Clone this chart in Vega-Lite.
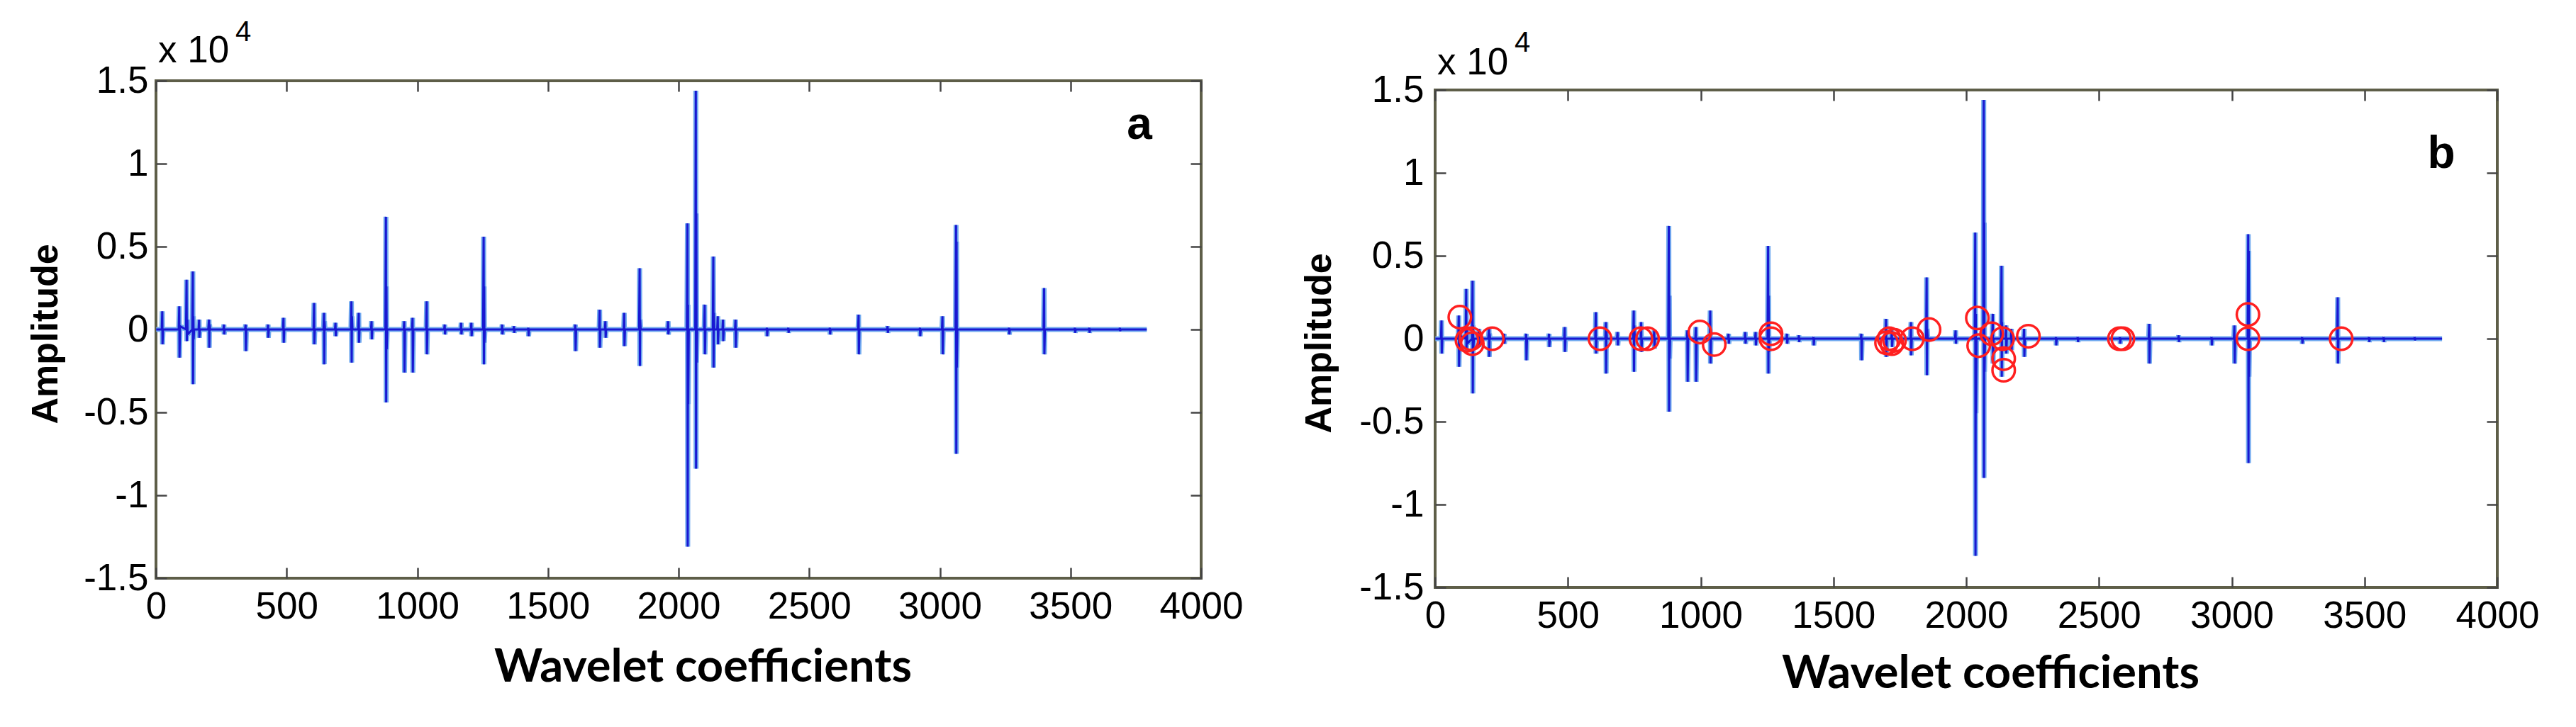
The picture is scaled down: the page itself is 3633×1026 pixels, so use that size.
{
  "$schema": "https://vega.github.io/schema/vega-lite/v6.json",
  "background": "white",
  "padding": {"left": 36, "top": 23, "right": 5, "bottom": 5},
  "config": {
    "view": {"stroke": "#5e5e48", "strokeWidth": 4},
    "font": "Liberation Sans",
    "axis": {"grid": false}
  },
  "datasets": {
    "sig": [
      {"x":1,"y":0},
      {"x":22,"y":0},{"x":24,"y":1100},{"x":25,"y":-900},{"x":27,"y":0},
      {"x":87,"y":0},{"x":89,"y":1400},{"x":90,"y":-1700},{"x":92,"y":200},
      {"x":115,"y":0},{"x":117,"y":3000},{"x":118,"y":-700},{"x":120,"y":600},{"x":121,"y":-300},
      {"x":139,"y":0},{"x":141,"y":3500},{"x":142,"y":-3300},{"x":143,"y":800},{"x":144,"y":-600},{"x":146,"y":0},
      {"x":163,"y":0},{"x":165,"y":600},{"x":166,"y":-500},{"x":168,"y":0},
      {"x":200,"y":0},{"x":203,"y":600},{"x":204,"y":-1100},{"x":205,"y":300},{"x":207,"y":0},
      {"x":258,"y":0},{"x":260,"y":300},{"x":261,"y":-300},{"x":263,"y":0},
      {"x":341,"y":0},{"x":343,"y":300},{"x":344,"y":-1300},{"x":346,"y":0},
      {"x":427,"y":0},{"x":429,"y":300},{"x":430,"y":-500},{"x":432,"y":0},
      {"x":486,"y":0},{"x":488,"y":700},{"x":489,"y":-800},{"x":491,"y":0},
      {"x":603,"y":0},{"x":605,"y":1600},{"x":606,"y":-900},{"x":608,"y":0},
      {"x":641,"y":0},{"x":643,"y":1000},{"x":644,"y":-2100},{"x":645,"y":500},{"x":647,"y":0},
      {"x":685,"y":0},{"x":687,"y":400},{"x":688,"y":-400},{"x":690,"y":0},
      {"x":746,"y":0},{"x":748,"y":1700},{"x":749,"y":-2000},{"x":750,"y":800},{"x":752,"y":0},
      {"x":774,"y":0},{"x":776,"y":1000},{"x":777,"y":-800},{"x":779,"y":0},
      {"x":823,"y":0},{"x":825,"y":500},{"x":826,"y":-600},{"x":828,"y":0},
      {"x":878,"y":0},{"x":880,"y":6800},{"x":881,"y":-4400},{"x":882,"y":2600},{"x":883,"y":-1200},{"x":885,"y":0},
      {"x":948,"y":0},{"x":950,"y":500},{"x":951,"y":-2600},{"x":953,"y":0},
      {"x":980,"y":0},{"x":982,"y":700},{"x":983,"y":-2600},{"x":985,"y":0},
      {"x":1034,"y":0},{"x":1036,"y":1700},{"x":1037,"y":-1500},{"x":1039,"y":0},
      {"x":1103,"y":0},{"x":1105,"y":300},{"x":1106,"y":-300},{"x":1108,"y":0},
      {"x":1166,"y":0},{"x":1168,"y":400},{"x":1169,"y":-300},{"x":1171,"y":0},
      {"x":1205,"y":0},{"x":1207,"y":400},{"x":1208,"y":-400},{"x":1210,"y":0},
      {"x":1252,"y":0},{"x":1254,"y":5600},{"x":1255,"y":-2100},{"x":1256,"y":2600},{"x":1257,"y":-800},{"x":1259,"y":0},
      {"x":1323,"y":0},{"x":1325,"y":300},{"x":1326,"y":-300},{"x":1328,"y":0},
      {"x":1368,"y":0},{"x":1370,"y":200},{"x":1371,"y":-200},{"x":1373,"y":0},
      {"x":1423,"y":0},{"x":1425,"y":100},{"x":1426,"y":-400},{"x":1428,"y":0},
      {"x":1603,"y":0},{"x":1605,"y":300},{"x":1606,"y":-1300},{"x":1608,"y":0},
      {"x":1696,"y":0},{"x":1698,"y":1200},{"x":1699,"y":-1100},{"x":1701,"y":0},
      {"x":1718,"y":0},{"x":1720,"y":500},{"x":1721,"y":-500},{"x":1723,"y":0},
      {"x":1790,"y":0},{"x":1792,"y":1000},{"x":1793,"y":-1000},{"x":1795,"y":0},
      {"x":1849,"y":0},{"x":1851,"y":3700},{"x":1852,"y":-2200},{"x":1853,"y":600},{"x":1855,"y":0},
      {"x":1958,"y":0},{"x":1960,"y":500},{"x":1961,"y":-300},{"x":1963,"y":0},
      {"x":2032,"y":0},{"x":2034,"y":6400},{"x":2035,"y":-13100},{"x":2036,"y":1500},{"x":2037,"y":-4500},{"x":2039,"y":0},
      {"x":2064,"y":0},{"x":2066,"y":14400},{"x":2067,"y":-8400},{"x":2068,"y":7000},{"x":2069,"y":-2000},{"x":2071,"y":0},
      {"x":2098,"y":0},{"x":2100,"y":1500},{"x":2101,"y":-1500},{"x":2103,"y":0},
      {"x":2131,"y":0},{"x":2133,"y":4400},{"x":2134,"y":-2300},{"x":2135,"y":1000},{"x":2137,"y":0},
      {"x":2148,"y":0},{"x":2150,"y":800},{"x":2151,"y":-900},{"x":2153,"y":0},
      {"x":2168,"y":0},{"x":2170,"y":600},{"x":2171,"y":-700},{"x":2173,"y":0},
      {"x":2216,"y":0},{"x":2218,"y":600},{"x":2219,"y":-1100},{"x":2221,"y":0},
      {"x":2336,"y":0},{"x":2338,"y":100},{"x":2339,"y":-400},{"x":2341,"y":0},
      {"x":2418,"y":0},{"x":2420,"y":100},{"x":2421,"y":-200},{"x":2423,"y":0},
      {"x":2577,"y":0},{"x":2579,"y":100},{"x":2580,"y":-300},{"x":2582,"y":0},
      {"x":2687,"y":0},{"x":2689,"y":900},{"x":2690,"y":-1500},{"x":2692,"y":0},
      {"x":2798,"y":0},{"x":2800,"y":200},{"x":2801,"y":-200},{"x":2803,"y":0},
      {"x":2922,"y":0},{"x":2924,"y":100},{"x":2925,"y":-400},{"x":2927,"y":0},
      {"x":3008,"y":0},{"x":3010,"y":800},{"x":3011,"y":-1500},{"x":3013,"y":0},
      {"x":3060,"y":0},{"x":3062,"y":6300},{"x":3063,"y":-7500},{"x":3064,"y":5300},{"x":3065,"y":-2300},{"x":3067,"y":0},
      {"x":3263,"y":0},{"x":3265,"y":100},{"x":3266,"y":-300},{"x":3268,"y":0},
      {"x":3397,"y":0},{"x":3399,"y":2500},{"x":3400,"y":-1500},{"x":3402,"y":0},
      {"x":3515,"y":0},{"x":3517,"y":100},{"x":3518,"y":-200},{"x":3520,"y":0},
      {"x":3570,"y":0},{"x":3572,"y":100},{"x":3573,"y":-200},{"x":3575,"y":0},
      {"x":3687,"y":0},{"x":3689,"y":100},{"x":3690,"y":-100},{"x":3692,"y":0},
      {"x":3792,"y":0}
    ],
    "circles": [
      {"x":93,"y":1300},{"x":120,"y":-100},{"x":135,"y":0},{"x":140,"y":-300},{"x":215,"y":0},
      {"x":621,"y":0},{"x":775,"y":0},{"x":800,"y":0},{"x":997,"y":400},{"x":1051,"y":-350},
      {"x":1265,"y":300},{"x":1265,"y":0},{"x":1700,"y":-250},{"x":1710,"y":0},{"x":1720,"y":-300},
      {"x":1730,"y":-100},{"x":1797,"y":0},{"x":1860,"y":550},{"x":2042,"y":1250},{"x":2047,"y":-420},
      {"x":2096,"y":300},{"x":2137,"y":0},{"x":2141,"y":-1200},{"x":2141,"y":-1900},{"x":2234,"y":150},
      {"x":2577,"y":0},{"x":2590,"y":0},{"x":3061,"y":1460},{"x":3061,"y":0},{"x":3412,"y":0}
    ]
  },
  "spacing": 330,
  "bounds": "flush",
  "hconcat": [
    {
      "width": 1474,
      "height": 702,
      "title": {"text": "x 10", "anchor": "start", "frame": "group", "font": "Liberation Sans", "fontSize": 53, "fontWeight": "normal", "color": "black", "baseline": "alphabetic", "offset": 18, "dx": 3, "dy": 133},
      "resolve": {"axis": {"x": "independent", "y": "independent"}},
      "layer": [
        {
          "data": {"name": "sig"},
          "mark": {"type": "line", "color": "#72aaef", "strokeWidth": 7, "strokeJoin": "bevel"},
          "encoding": {
            "x": {"field": "x", "type": "quantitative", "scale": {"domain": [0, 4000], "nice": false, "zero": false},
              "axis": {"orient": "bottom", "values": [0,500,1000,1500,2000,2500,3000,3500,4000], "format": "d", "labelFont": "Liberation Sans", "labelFontSize": 53, "labelColor": "black", "labelPadding": 29, "labelFlush": false, "labelOverlap": false, "tickSize": -15, "tickColor": "#444444", "tickWidth": 2.5, "domain": false,
                "title": "Wavelet coefficients", "titleFont": "Lato", "titleFontSize": 65, "titleFontWeight": "bold", "titleColor": "black", "titleX": 771, "titleY": 145, "titleBaseline": "alphabetic", "titleAlign": "center"}},
            "y": {"field": "y", "type": "quantitative", "scale": {"domain": [-15000, 15000], "nice": false},
              "axis": {"orient": "left", "values": [-15000,-10000,-5000,0,5000,10000,15000], "labelExpr": "'' + datum.value/10000", "labelFont": "Liberation Sans", "labelFontSize": 53, "labelColor": "black", "labelPadding": 26, "labelOverlap": false, "labelFlush": false, "tickSize": -15, "tickColor": "#444444", "tickWidth": 2.5, "domain": false,
                "title": "Amplitude", "titleFont": "Liberation Sans", "titleFontSize": 52, "titleFontWeight": "bold", "titleColor": "black", "titleAngle": 270, "titleX": -140, "titleY": 357, "titleBaseline": "alphabetic", "titleAlign": "center"}}
          }
        },
        {
          "data": {"name": "sig"},
          "mark": {"type": "line", "color": "#1818d2", "strokeWidth": 3, "strokeJoin": "bevel"},
          "encoding": {
            "x": {"field": "x", "type": "quantitative", "scale": {"domain": [0, 4000], "nice": false, "zero": false},
              "axis": {"orient": "top", "values": [0,500,1000,1500,2000,2500,3000,3500,4000], "labels": false, "title": null, "domain": false, "tickSize": -15, "tickColor": "#444444", "tickWidth": 2.5, "minExtent": 0, "maxExtent": 0}},
            "y": {"field": "y", "type": "quantitative", "scale": {"domain": [-15000, 15000], "nice": false},
              "axis": {"orient": "right", "values": [-15000,-10000,-5000,0,5000,10000,15000], "labels": false, "title": null, "domain": false, "tickSize": -15, "tickColor": "#444444", "tickWidth": 2.5, "minExtent": 0, "maxExtent": 0}}
          }
        },
        {
          "data": {"values": [{"x": 3764, "y": 11500, "t": "a", "w": "bold", "s": 64, "al": "center"}, {"x": 304, "y": 17400, "t": "4", "w": "normal", "s": 40, "al": "left"}]},
          "mark": {"type": "text", "font": "Liberation Sans", "color": "black", "baseline": "alphabetic", "fontSize": {"expr": "datum.s"}, "fontWeight": {"expr": "datum.w"}, "align": {"expr": "datum.al"}},
          "encoding": {
            "x": {"field": "x", "type": "quantitative", "scale": {"domain": [0, 4000], "nice": false, "zero": false}, "axis": null},
            "y": {"field": "y", "type": "quantitative", "scale": {"domain": [-15000, 15000], "nice": false}, "axis": null},
            "text": {"field": "t"}
          }
        }
      ]
    },
    {
      "spacing": 12,
      "bounds": "flush",
      "vconcat": [
        {
          "width": 1498,
          "height": 1,
          "view": {"stroke": null},
          "data": {"values": []},
          "mark": "rule",
          "encoding": {}
        },
        {
          "width": 1498,
          "height": 702,
          "title": {"text": "x 10", "anchor": "start", "frame": "group", "font": "Liberation Sans", "fontSize": 53, "fontWeight": "normal", "color": "black", "baseline": "alphabetic", "offset": 16, "dx": 3, "dy": 133},
          "resolve": {"axis": {"x": "independent", "y": "independent"}},
          "layer": [
            {
              "data": {"name": "sig"},
              "mark": {"type": "line", "color": "#72aaef", "strokeWidth": 7, "strokeJoin": "bevel"},
              "encoding": {
                "x": {"field": "x", "type": "quantitative", "scale": {"domain": [0, 4000], "nice": false, "zero": false},
                  "axis": {"orient": "bottom", "values": [0,500,1000,1500,2000,2500,3000,3500,4000], "format": "d", "labelFont": "Liberation Sans", "labelFontSize": 53, "labelColor": "black", "labelPadding": 29, "labelFlush": false, "labelOverlap": false, "tickSize": -15, "tickColor": "#444444", "tickWidth": 2.5, "domain": false,
                    "title": "Wavelet coefficients", "titleFont": "Lato", "titleFontSize": 65, "titleFontWeight": "bold", "titleColor": "black", "titleX": 783, "titleY": 141, "titleBaseline": "alphabetic", "titleAlign": "center"}},
                "y": {"field": "y", "type": "quantitative", "scale": {"domain": [-15000, 15000], "nice": false},
                  "axis": {"orient": "left", "values": [-15000,-10000,-5000,0,5000,10000,15000], "labelExpr": "'' + datum.value/10000", "labelFont": "Liberation Sans", "labelFontSize": 53, "labelColor": "black", "labelPadding": 31, "labelOverlap": false, "labelFlush": false, "tickSize": -15, "tickColor": "#444444", "tickWidth": 2.5, "domain": false,
                    "title": "Amplitude", "titleFont": "Liberation Sans", "titleFontSize": 52, "titleFontWeight": "bold", "titleColor": "black", "titleAngle": 270, "titleX": -148, "titleY": 357, "titleBaseline": "alphabetic", "titleAlign": "center"}}
              }
            },
            {
              "data": {"name": "sig"},
              "mark": {"type": "line", "color": "#1818d2", "strokeWidth": 3, "strokeJoin": "bevel"},
              "encoding": {
                "x": {"field": "x", "type": "quantitative", "scale": {"domain": [0, 4000], "nice": false, "zero": false},
                  "axis": {"orient": "top", "values": [0,500,1000,1500,2000,2500,3000,3500,4000], "labels": false, "title": null, "domain": false, "tickSize": -15, "tickColor": "#444444", "tickWidth": 2.5, "minExtent": 0, "maxExtent": 0}},
                "y": {"field": "y", "type": "quantitative", "scale": {"domain": [-15000, 15000], "nice": false},
                  "axis": {"orient": "right", "values": [-15000,-10000,-5000,0,5000,10000,15000], "labels": false, "title": null, "domain": false, "tickSize": -15, "tickColor": "#444444", "tickWidth": 2.5, "minExtent": 0, "maxExtent": 0}}
              }
            },
            {
              "data": {"name": "circles"},
              "mark": {"type": "point", "shape": "circle", "filled": false, "stroke": "#ff2020", "strokeWidth": 3.5, "size": 1000, "opacity": 1},
              "encoding": {
                "x": {"field": "x", "type": "quantitative", "scale": {"domain": [0, 4000], "nice": false, "zero": false}, "axis": null},
                "y": {"field": "y", "type": "quantitative", "scale": {"domain": [-15000, 15000], "nice": false}, "axis": null}
              }
            },
            {
              "data": {"values": [{"x": 3789, "y": 10300, "t": "b", "w": "bold", "s": 64, "al": "center"}, {"x": 299, "y": 17300, "t": "4", "w": "normal", "s": 40, "al": "left"}]},
              "mark": {"type": "text", "font": "Liberation Sans", "color": "black", "baseline": "alphabetic", "fontSize": {"expr": "datum.s"}, "fontWeight": {"expr": "datum.w"}, "align": {"expr": "datum.al"}},
              "encoding": {
                "x": {"field": "x", "type": "quantitative", "scale": {"domain": [0, 4000], "nice": false, "zero": false}, "axis": null},
                "y": {"field": "y", "type": "quantitative", "scale": {"domain": [-15000, 15000], "nice": false}, "axis": null},
                "text": {"field": "t"}
              }
            }
          ]
        }
      ]
    }
  ]
}
